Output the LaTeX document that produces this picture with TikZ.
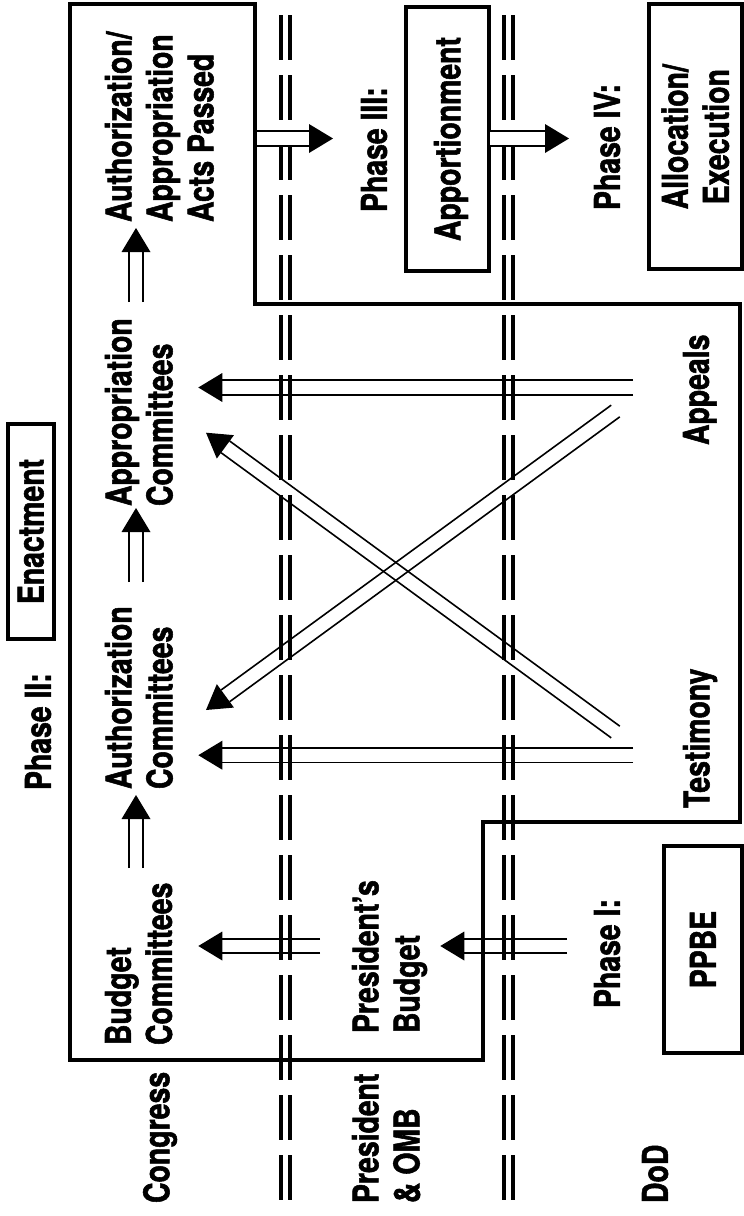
\documentclass[tikz,border=0pt]{standalone}
\usepackage{fontspec}
\newfontfamily\condfont{TeX Gyre Heros}[FakeStretch=0.8,BoldFeatures={FakeBold=1.5}]
\usetikzlibrary{calc}
\newcommand\arrHalfGap{7.25pt}
\newcommand\arrHeadLen{24pt}
\newcommand\arrHeadHalf{14.5pt}
\newcommand\hollowarrow[2]{%
  \coordinate (hbase) at ($(#2)!\arrHeadLen!(#1)$);
  \draw[arrline] ($(#1)!\arrHalfGap!90:(#2)$) -- ($(hbase)!\arrHalfGap!-90:(#1)$);
  \draw[arrline] ($(#1)!\arrHalfGap!-90:(#2)$) -- ($(hbase)!\arrHalfGap!90:(#1)$);
  \fill (#2) -- ($(hbase)!\arrHeadHalf!90:(#1)$) -- ($(hbase)!\arrHeadHalf!-90:(#1)$) -- cycle;
}
\newcommand\whitearrow[2]{%
  \coordinate (hbase) at ($(#2)!\arrHeadLen!(#1)$);
  \fill[white] ($(#1)!\arrHalfGap!90:(#2)$) -- ($(hbase)!\arrHalfGap!-90:(#1)$) -- ($(hbase)!\arrHalfGap!90:(#1)$) -- ($(#1)!\arrHalfGap!-90:(#2)$) -- cycle;
  \hollowarrow{#1}{#2}%
}
\begin{document}
\begin{tikzpicture}[x=1pt,y=-1pt,
  lbl/.style={rotate=90,inner sep=0pt,outer sep=0pt,anchor=north west,align=left,
    font=\condfont\bfseries\fontsize{35.5pt}{41pt}\selectfont},
  boxlbl/.style={rotate=90,draw,line width=4pt,inner sep=0pt,outer sep=0pt,align=center,
    font=\condfont\bfseries\fontsize{35.5pt}{41pt}\selectfont},
  capbox/.style={boxlbl,text height=25.5pt,text depth=0pt},
  stageline/.style={line width=4pt,line join=miter},
  dashline/.style={line width=4pt,dash pattern=on 45pt off 15pt},
  arrline/.style={line width=1.6pt}]
\useasboundingbox (0,0) rectangle (744,1216);
\fill[white] (0,0) rectangle (744,1216);

% stage outline
\draw[stageline] (70,3.5) -- (255,3.5) -- (255,304) -- (740,304) -- (740,822)
  -- (483,822) -- (483,1060) -- (70,1060) -- cycle;

% text labels
\node[lbl] (acts) at (105,222) {Authorization/\\Appropriation\\Acts Passed};
\node[lbl] (approp) at (105,506) {Appropriation\\Committees};
\node[lbl] (auth) at (105,789) {Authorization\\Committees};
\node[lbl] (budget) at (105,1045) {Budget\\Committees};
\node[lbl] (congress) at (143,1203) {Congress};
\node[lbl] (pres) at (352,1203) {President\\\& OMB};
\node[lbl] (pbudget) at (352,1033) {President’s\\Budget};
\node[lbl] (phase1) at (594,1008) {Phase I:};
\node[lbl] (dod) at (642,1203) {DoD};
\node[lbl] (testimony) at (683,808) {Testimony};
\node[lbl] (appeals) at (683,445) {Appeals};
\node[lbl] (phase3) at (361,212) {Phase III:};
\node[lbl] (phase4) at (594,210) {Phase IV:};
\node[lbl] (phase2) at (25,790) {Phase II:};

% boxed labels
\node[capbox,minimum width=263.4pt,minimum height=82.4pt] (apport) at (447.5,139) {Apportionment};
\node[boxlbl,minimum width=265.3pt,minimum height=93.3pt] (alloc) at (695.3,136.7) {Allocation/\\Execution};
\node[capbox,minimum width=207pt,minimum height=78pt] (ppbe) at (703,949.5) {PPBE};
\node[capbox,minimum width=215pt,minimum height=46.5pt] (enact) at (30.75,531.5) {Enactment};

% lane separators
\draw[dashline] (281.3,15) -- (281.3,1200);
\draw[dashline] (290,15) -- (290,1200);
\draw[dashline] (503.5,15) -- (503.5,1200);
\draw[dashline] (512.5,15) -- (512.5,1200);

% connector ends
\coordinate (a1s) at (257,138.5);   \coordinate (a1e) at (333,138.5);
\coordinate (a2s) at (490,138.5);   \coordinate (a2e) at (569,138.5);
\coordinate (a3s) at (136,302);     \coordinate (a3e) at (136,228);
\coordinate (a4s) at (136,582);     \coordinate (a4e) at (136,508);
\coordinate (a5s) at (136,868);     \coordinate (a5e) at (136,795);
\coordinate (a6s) at (320,946);     \coordinate (a6e) at (198.3,946);
\coordinate (a7s) at (567,946);     \coordinate (a7e) at (440.3,946);
\coordinate (a8s) at (633,387.5);   \coordinate (a8e) at (198.3,387.5);
\coordinate (a9s) at (633,755.2);   \coordinate (a9e) at (198.3,755.2);
\coordinate (a10s) at (615.5,732);  \coordinate (a10e) at (206,432.7);
\coordinate (a11s) at (615.5,411);  \coordinate (a11e) at (206,710);

% connectors
\whitearrow{a1s}{a1e}
\whitearrow{a2s}{a2e}
\hollowarrow{a3s}{a3e}
\hollowarrow{a4s}{a4e}
\hollowarrow{a5s}{a5e}
\hollowarrow{a6s}{a6e}
\hollowarrow{a7s}{a7e}
\hollowarrow{a8s}{a8e}
\hollowarrow{a9s}{a9e}
\hollowarrow{a10s}{a10e}
\hollowarrow{a11s}{a11e}
\end{tikzpicture}
\end{document}
